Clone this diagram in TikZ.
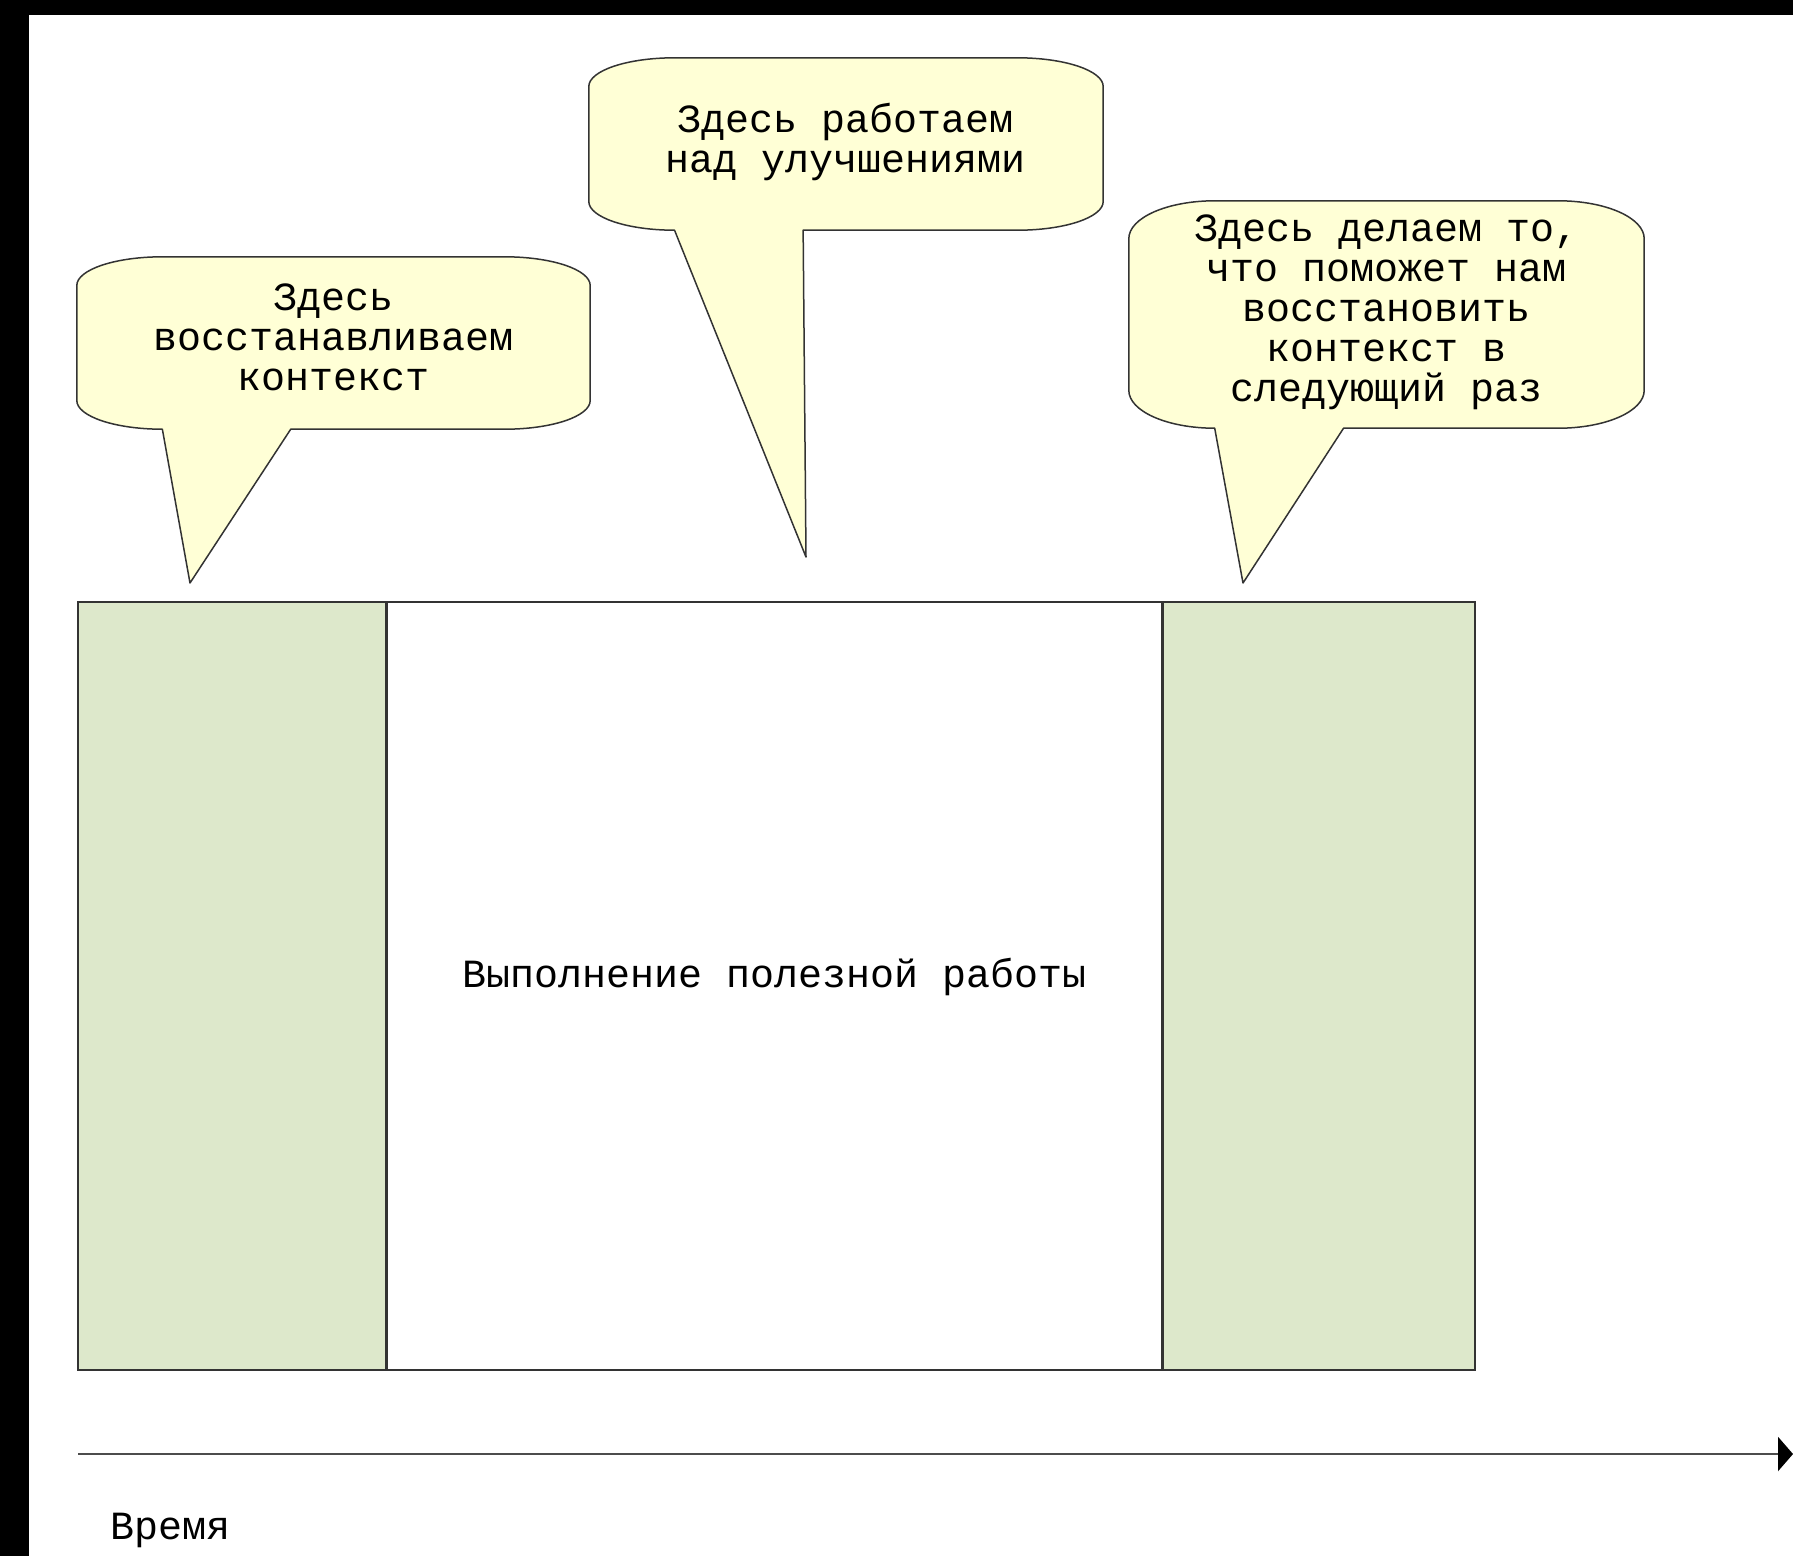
\documentclass[tikz,border=0pt]{standalone}
\usepackage{fontspec}
\setmainfont{Liberation Mono}
\usepackage{tikz}
\usetikzlibrary{calc,arrows.meta,backgrounds}

\definecolor{notefill}{RGB}{255,255,214}
\definecolor{phasefill}{RGB}{221,232,203}

\tikzset{
  phase/.style={draw=black!80, line width=1.6pt, anchor=north west, minimum height=768pt, inner sep=0pt},
  note/.style={inner sep=0pt, align=center, execute at begin node=\strut, execute at end node=\strut},
  bubble/.style={draw=black!80, fill=notefill, line width=1.5pt, line join=round},
}

% body of a callout = node #1, tail ends at #2
\newcommand{\speech}[2]{%
  \path[bubble] let \p1=(#1.north west), \p2=(#1.south east),
    \n1={(\x2-\x1)/6}, \n2={(\y1-\y2)/6}, \n3={(\x2-\x1)/4} in
    (\x1,\y1-\n2) arc[start angle=180,end angle=90,x radius=\n1,y radius=\n2]
    -- (\x2-\n1,\y1) arc[start angle=90,end angle=0,x radius=\n1,y radius=\n2]
    -- (\x2,\y2+\n2) arc[start angle=0,end angle=-90,x radius=\n1,y radius=\n2]
    -- (\x1+\n1+\n3,\y2) -- (#2) -- (\x1+\n1,\y2)
    arc[start angle=270,end angle=180,x radius=\n1,y radius=\n2] -- cycle;}

\begin{document}
\begin{tikzpicture}[x=1pt,y=-1pt,font=\fontsize{40}{40}\selectfont]
\useasboundingbox (0,0) rectangle (1793,1556);
\fill[black] (0,0) rectangle (29,1556);
\fill[black] (0,0) rectangle (1793,15);

% the three phases
\node[phase, fill=phasefill, minimum width=308pt] (warmup) at (77,601) {};
\node[phase, minimum width=774pt] (work) at (warmup.north east) {};
\node[phase, fill=phasefill, minimum width=312pt] (wrapup) at (work.north east) {};
\node[anchor=base] (worktext) at ([yshift=-2pt]work.center) {Выполнение полезной работы};

% callouts
\node[note, minimum width=513pt, minimum height=172pt] (restore) at (333.5,343) {Здесь\\восстанавливаем\\контекст};
\node[note, minimum width=514pt, minimum height=172pt] (improve) at (846,144) {Здесь работаем\\над улучшениями};
\node[note, minimum width=515pt, minimum height=227pt] (save) at (1386.5,314.5) {Здесь делаем то,\\что поможет нам\\восстановить\\контекст в\\следующий раз};
\coordinate (restoretip) at (190,583);
\coordinate (improvetip) at (806,557);
\coordinate (savetip) at (1243,583);

\begin{scope}[on background layer]
\fill[white] (29,15) rectangle (1793,1556);
\speech{restore}{restoretip}
\speech{improve}{improvetip}
\speech{save}{savetip}
\end{scope}

% time axis
\coordinate (t0) at (78,1454);
\coordinate (t1) at (1793,1454);
\draw[black!70, line width=2.4pt, -{Triangle[length=15pt,width=34pt,color=black]}] (t0) -- (t1);
\node[anchor=base west, inner sep=0pt] (time) at (110,1539) {Время};
\end{tikzpicture}
\end{document}
